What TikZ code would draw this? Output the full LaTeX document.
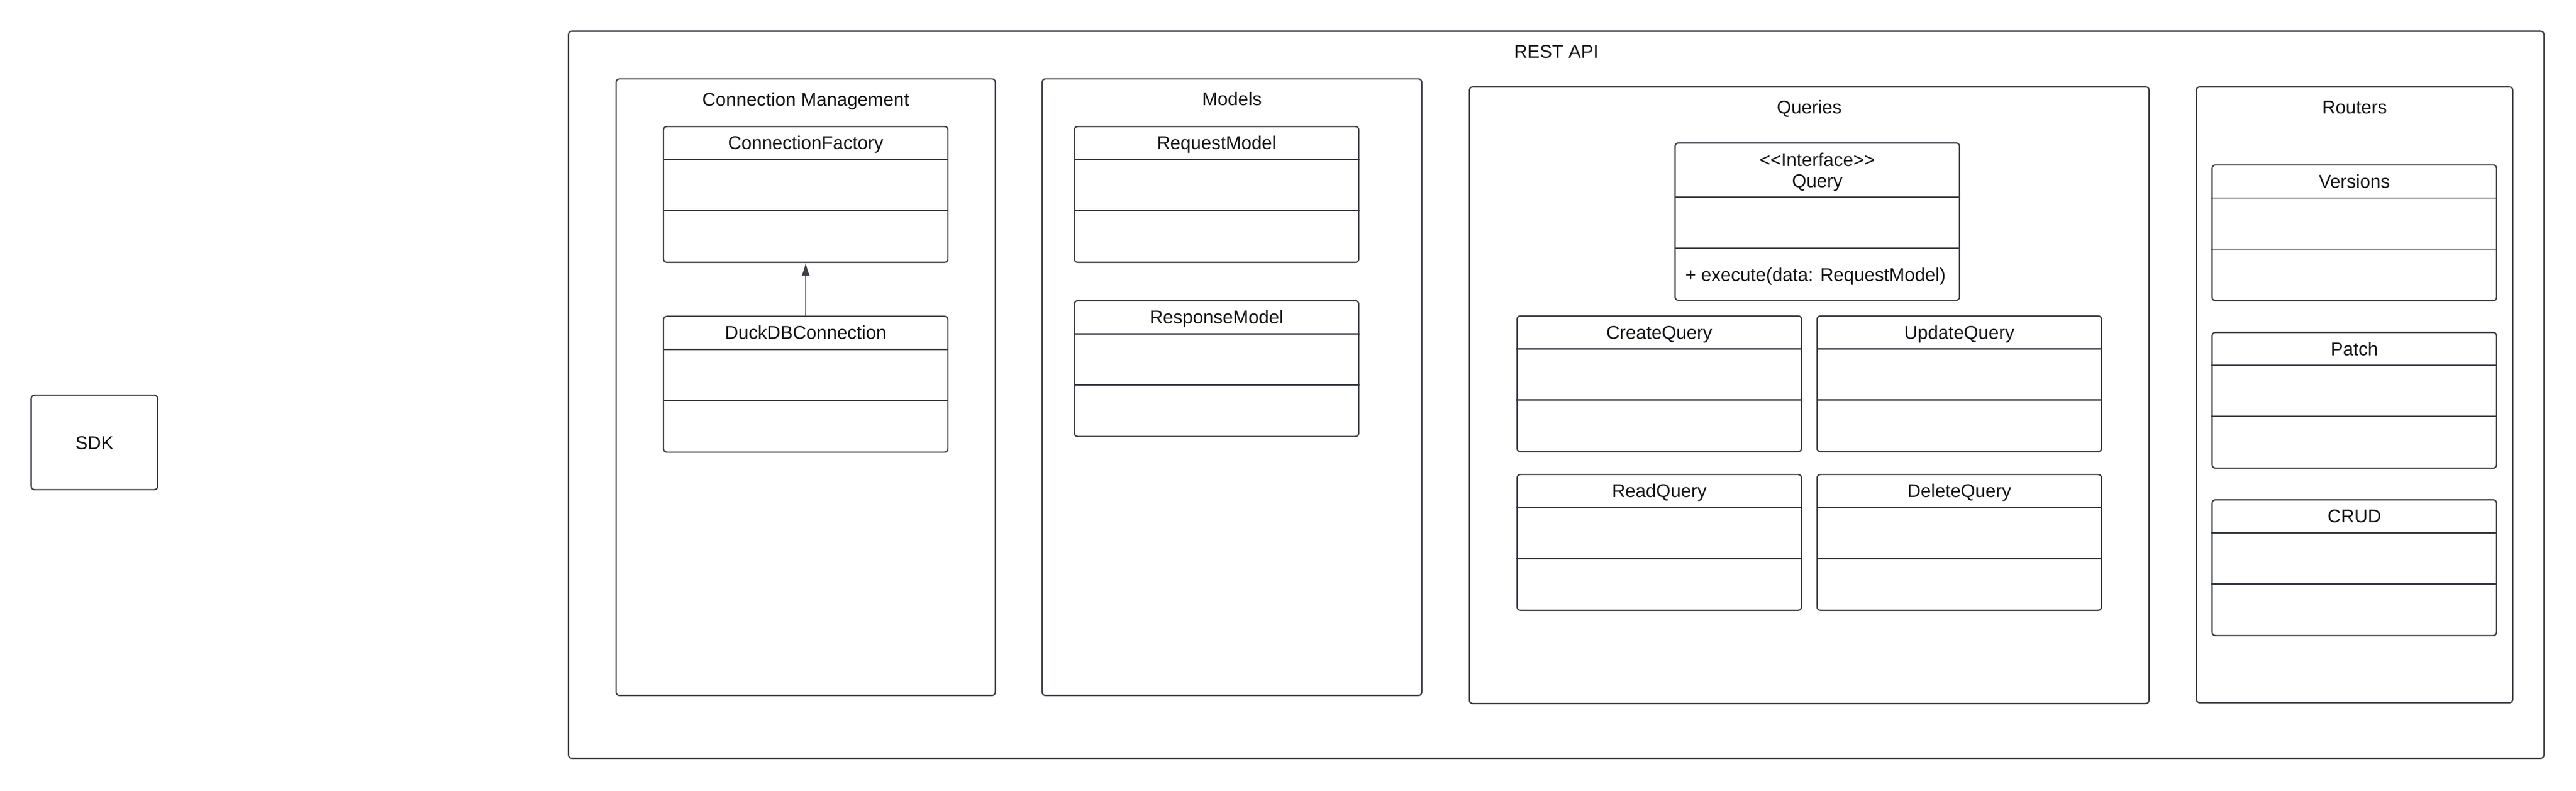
\documentclass[tikz,border=0pt]{standalone}
\usepackage{fontspec}
\setmainfont{Liberation Sans}[Ligatures=TeXOff]
\usepackage{tikz}
\usetikzlibrary{arrows.meta}
\definecolor{linec}{RGB}{59,63,70}
\definecolor{textc}{RGB}{22,22,24}

\begin{document}
\begin{tikzpicture}[
			pkgbox/.style={draw=linec, line width=0.9pt, rounded corners=0.08cm},
			classbox/.style={draw=linec, line width=0.9pt, rounded corners=0.08cm, minimum width=6.75cm, minimum height=3.22cm},
			classname/.style={text=textc, font=\fontsize{12.5}{14.2}\selectfont, align=center, inner sep=0pt, anchor=base},
			pkgname/.style={text=textc, font=\fontsize{12.5}{14.2}\selectfont, inner sep=0pt, anchor=base},
			divider/.style={draw=linec, line width=0.9pt}
		]
		\useasboundingbox (0,0) rectangle (61.13,18.75);

		\node[pkgbox, minimum width=3cm, minimum height=2.24cm] (sdk) at (2.24,8.26) {};
		\node[pkgname] (sdkT) at (2.24,8.10) {SDK};

		\node[pkgbox, minimum width=46.88cm, minimum height=17.24cm] (rest) at (36.93,9.39) {};
		\node[pkgname] (restT) at (36.93,17.38) {REST API};

		% Connection Management
		\node[pkgbox, minimum width=9cm, minimum height=14.62cm] (conn) at (19.12,9.57) {};
		\node[pkgname] (connT) at (19.12,16.24) {Connection Management};

		\node[classbox] (factory) at (19.12,14.14) {};
		\node[classname] (factoryT) at ([yshift=-0.56cm]factory.north) {ConnectionFactory};
		\draw[divider] ([yshift=-0.8cm]factory.north west) -- ([yshift=-0.8cm]factory.north east);
		\draw[divider] ([yshift=-2.01cm]factory.north west) -- ([yshift=-2.01cm]factory.north east);

		\node[classbox] (duck) at (19.12,9.64) {};
		\node[classname] (duckT) at ([yshift=-0.56cm]duck.north) {DuckDBConnection};
		\draw[divider] ([yshift=-0.8cm]duck.north west) -- ([yshift=-0.8cm]duck.north east);
		\draw[divider] ([yshift=-2.01cm]duck.north west) -- ([yshift=-2.01cm]duck.north east);

		\draw[linec, line width=0.3pt, -{Latex[length=0.3cm, width=0.19cm]}] (duck.north) -- (factory.south);

		% Models
		\node[pkgbox, minimum width=9.01cm, minimum height=14.62cm] (models) at (29.235,9.57) {};
		\node[pkgname] (modelsT) at (29.235,16.25) {Models};

		\node[classbox] (request) at (28.87,14.14) {};
		\node[classname] (requestT) at ([yshift=-0.56cm]request.north) {RequestModel};
		\draw[divider] ([yshift=-0.8cm]request.north west) -- ([yshift=-0.8cm]request.north east);
		\draw[divider] ([yshift=-2.01cm]request.north west) -- ([yshift=-2.01cm]request.north east);

		\node[classbox] (response) at (28.87,10.01) {};
		\node[classname] (responseT) at ([yshift=-0.56cm]response.north) {ResponseModel};
		\draw[divider] ([yshift=-0.8cm]response.north west) -- ([yshift=-0.8cm]response.north east);
		\draw[divider] ([yshift=-2.01cm]response.north west) -- ([yshift=-2.01cm]response.north east);

		% Queries
		\node[pkgbox, minimum width=16.13cm, minimum height=14.62cm] (queries) at (42.935,9.38) {};
		\node[pkgname] (queriesT) at (42.935,16.06) {Queries};

		\node[classbox, minimum height=3.73cm] (query) at (43.125,13.495) {};
		\node[classname] (queryT) at ([yshift=-1.07cm]query.north) {<<Interface>>\\Query};
		\draw[divider] ([yshift=-1.3cm]query.north west) -- ([yshift=-1.3cm]query.north east);
		\draw[divider] ([yshift=-2.51cm]query.north west) -- ([yshift=-2.51cm]query.north east);
		\node[classname, anchor=base west] (queryM) at ([xshift=0.25cm, yshift=-3.30cm]query.north west) {+ execute(data: RequestModel)};

		\node[classbox] (create) at (39.375,9.65) {};
		\node[classname] (createT) at ([yshift=-0.56cm]create.north) {CreateQuery};
		\draw[divider] ([yshift=-0.8cm]create.north west) -- ([yshift=-0.8cm]create.north east);
		\draw[divider] ([yshift=-2.01cm]create.north west) -- ([yshift=-2.01cm]create.north east);

		\node[classbox] (update) at (46.495,9.65) {};
		\node[classname] (updateT) at ([yshift=-0.56cm]update.north) {UpdateQuery};
		\draw[divider] ([yshift=-0.8cm]update.north west) -- ([yshift=-0.8cm]update.north east);
		\draw[divider] ([yshift=-2.01cm]update.north west) -- ([yshift=-2.01cm]update.north east);

		\node[classbox] (read) at (39.375,5.89) {};
		\node[classname] (readT) at ([yshift=-0.56cm]read.north) {ReadQuery};
		\draw[divider] ([yshift=-0.8cm]read.north west) -- ([yshift=-0.8cm]read.north east);
		\draw[divider] ([yshift=-2.01cm]read.north west) -- ([yshift=-2.01cm]read.north east);

		\node[classbox] (delete) at (46.495,5.89) {};
		\node[classname] (deleteT) at ([yshift=-0.56cm]delete.north) {DeleteQuery};
		\draw[divider] ([yshift=-0.8cm]delete.north west) -- ([yshift=-0.8cm]delete.north east);
		\draw[divider] ([yshift=-2.01cm]delete.north west) -- ([yshift=-2.01cm]delete.north east);

		% Routers
		\node[pkgbox, minimum width=7.51cm, minimum height=14.6cm] (routers) at (55.875,9.39) {};
		\node[pkgname] (routersT) at (55.875,16.06) {Routers};

		\node[classbox] (versions) at (55.87,13.23) {};
		\node[classname] (versionsT) at ([yshift=-0.56cm]versions.north) {Versions};
		\draw[divider] ([yshift=-0.8cm]versions.north west) -- ([yshift=-0.8cm]versions.north east);
		\draw[divider] ([yshift=-2.01cm]versions.north west) -- ([yshift=-2.01cm]versions.north east);

		\node[classbox] (patch) at (55.87,9.26) {};
		\node[classname] (patchT) at ([yshift=-0.56cm]patch.north) {Patch};
		\draw[divider] ([yshift=-0.8cm]patch.north west) -- ([yshift=-0.8cm]patch.north east);
		\draw[divider] ([yshift=-2.01cm]patch.north west) -- ([yshift=-2.01cm]patch.north east);

		\node[classbox] (crud) at (55.87,5.29) {};
		\node[classname] (crudT) at ([yshift=-0.56cm]crud.north) {CRUD};
		\draw[divider] ([yshift=-0.8cm]crud.north west) -- ([yshift=-0.8cm]crud.north east);
		\draw[divider] ([yshift=-2.01cm]crud.north west) -- ([yshift=-2.01cm]crud.north east);
	\end{tikzpicture}
\end{document}
